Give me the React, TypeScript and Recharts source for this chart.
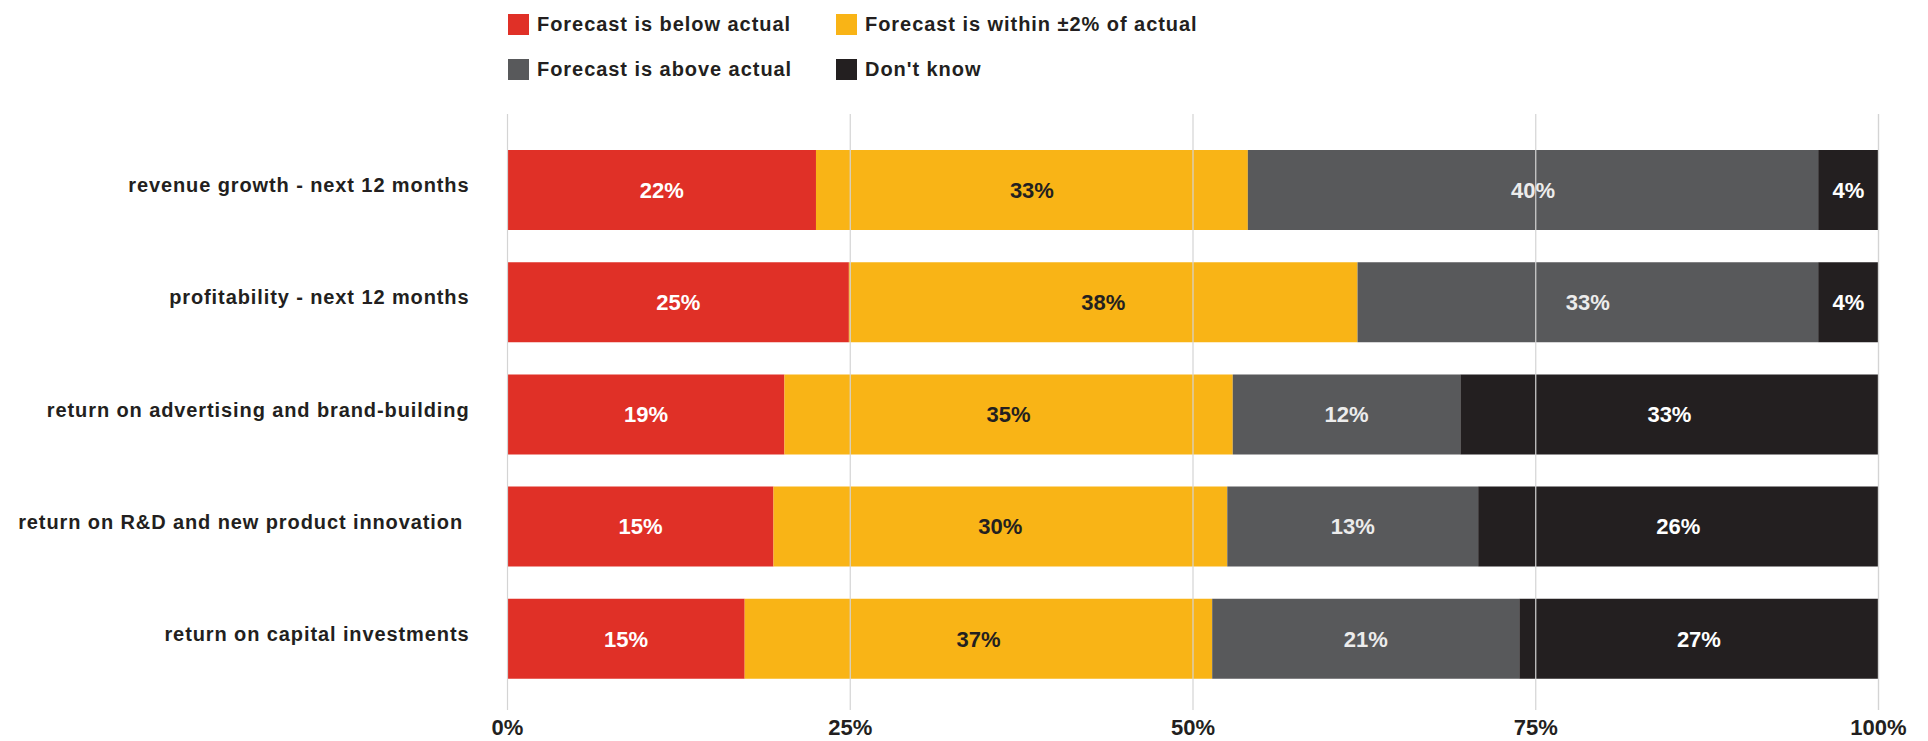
import React from 'react';
import { BarChart, Bar, XAxis, YAxis, CartesianGrid, Legend, LabelList } from 'recharts';

const categories = [
    'revenue growth - next 12 months',
    'profitability - next 12 months',
    'return on advertising and brand-building',
    'return on R&D and new product innovation ',
    'return on capital investments',
];

// bar lengths as drawn in the picture (share of the full bar, %)
const belowShare = [22.5, 24.9, 20.2, 19.4, 17.3];
const withinShare = [31.5, 37.1, 32.7, 33.1, 34.1];
const aboveShare = [41.6, 33.6, 16.6, 18.3, 22.4];
const dontKnowShare = [4.4, 4.4, 30.5, 29.2, 26.2];

// the printed percentages
const belowLabel = [22, 25, 19, 15, 15];
const withinLabel = [33, 38, 35, 30, 37];
const aboveLabel = [40, 33, 12, 13, 21];
const dontKnowLabel = [4, 4, 33, 26, 27];

const xTicks = [0, 25, 50, 75, 100];

const seriesNames = [
    'Forecast is below actual',
    'Forecast is within ±2% of actual',
    'Forecast is above actual',
    "Don't know",
];
const seriesColors = ['#E03027', '#F9B416', '#58595B', '#231F20'];

const FONT = '"Liberation Sans", Arial, Helvetica, sans-serif';
const DARK = '#231F20';

const data = categories.map((name, i) => ({
    name,
    below: belowShare[i],
    within: withinShare[i],
    above: aboveShare[i],
    dontKnow: dontKnowShare[i],
    belowLabel: belowLabel[i],
    withinLabel: withinLabel[i],
    aboveLabel: aboveLabel[i],
    dontKnowLabel: dontKnowLabel[i],
}));

const YTick = ({ x, y, payload }: any) => (
    <text
        x={x}
        y={y - 5}
        dy="0.355em"
        textAnchor="end"
        xmlSpace="preserve"
        style={{ fontFamily: FONT, fontWeight: 700, fontSize: 20, letterSpacing: 0.9, fill: DARK }}
    >
        {payload.value}
    </text>
);

const XTick = ({ x, y, payload }: any) => (
    <text
        x={x}
        y={y}
        dy="0.71em"
        textAnchor="middle"
        style={{ fontFamily: FONT, fontWeight: 700, fontSize: 22, fill: DARK }}
    >
        {payload.value}%
    </text>
);

// legend is a 2x2 grid, in the order of seriesNames
const LegendBox = ({ payload }: any) => {
    const items = [...(payload || [])].sort(
        (a: any, b: any) => seriesNames.indexOf(a.value) - seriesNames.indexOf(b.value)
    );
    return (
        <div style={{ position: 'relative', width: 1928, height: 100 }}>
            {items.map((entry: any, i: number) => (
                <div
                    key={entry.value}
                    style={{
                        position: 'absolute',
                        left: i % 2 === 0 ? 508 : 836,
                        top: (i < 2 ? 24.5 : 69.5) - 15,
                        height: 30,
                        display: 'flex',
                        alignItems: 'center',
                        gap: 8,
                        whiteSpace: 'nowrap',
                    }}
                >
                    <span style={{ width: 21, height: 21, background: entry.color, display: 'inline-block' }} />
                    <span style={{ fontFamily: FONT, fontWeight: 700, fontSize: 20, letterSpacing: 0.95, color: DARK }}>
                        {entry.value}
                    </span>
                </div>
            ))}
        </div>
    );
};

const labelStyle = { fontFamily: FONT, fontWeight: 700, fontSize: 22 };

const App: React.FC = () => {
    return (
        <div style={{ position: 'absolute', left: 0, top: 0, width: 1928, height: 741, background: '#ffffff' }}>
            <BarChart
                width={1928}
                height={741}
                data={data}
                layout="vertical"
                margin={{ top: 114, right: 49.5, bottom: 1, left: 0 }}
                barSize={80}
            >
                <XAxis
                    type="number"
                    domain={[0, 100]}
                    ticks={xTicks}
                    axisLine={false}
                    tickLine={false}
                    tickSize={6}
                    tickMargin={3.5}
                    height={30}
                    tick={<XTick />}
                    interval={0}
                />
                <YAxis
                    type="category"
                    dataKey="name"
                    width={507.5}
                    axisLine={false}
                    tickLine={false}
                    tickSize={6}
                    tickMargin={32}
                    padding={{ top: 20, bottom: 15 }}
                    tick={<YTick />}
                    interval={0}
                />
                <Legend
                    layout="horizontal"
                    verticalAlign="middle"
                    align="center"
                    content={<LegendBox />}
                    wrapperStyle={{ position: 'absolute', left: 0, top: 0, width: 1928, height: 100 }}
                />
                <Bar dataKey="below" name={seriesNames[0]} stackId="a" fill={seriesColors[0]} isAnimationActive={false}>
                    <LabelList dataKey="belowLabel" position="center" formatter={(v: any) => `${v}%`} fill="#ffffff" style={labelStyle} />
                </Bar>
                <Bar dataKey="within" name={seriesNames[1]} stackId="a" fill={seriesColors[1]} isAnimationActive={false}>
                    <LabelList dataKey="withinLabel" position="center" formatter={(v: any) => `${v}%`} fill={DARK} style={labelStyle} />
                </Bar>
                <Bar dataKey="above" name={seriesNames[2]} stackId="a" fill={seriesColors[2]} isAnimationActive={false}>
                    <LabelList dataKey="aboveLabel" position="center" formatter={(v: any) => `${v}%`} fill="#ECECEC" style={labelStyle} />
                </Bar>
                <Bar dataKey="dontKnow" name={seriesNames[3]} stackId="a" fill={seriesColors[3]} isAnimationActive={false}>
                    <LabelList dataKey="dontKnowLabel" position="center" formatter={(v: any) => `${v}%`} fill="#ffffff" style={labelStyle} />
                </Bar>
                <CartesianGrid horizontal={false} stroke="#D4D4D4" strokeWidth={1.2} zIndex={1000} />
            </BarChart>
        </div>
    );
};

export default App;
